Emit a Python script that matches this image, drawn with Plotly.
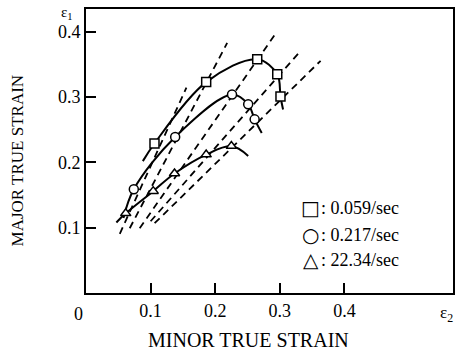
import plotly.graph_objects as go

# data (minor strain e2, major strain e1)
sq_x = [0.106, 0.186, 0.265, 0.296, 0.301]
sq_y = [0.229, 0.323, 0.358, 0.335, 0.301]
ci_x = [0.074, 0.138, 0.226, 0.251, 0.261]
ci_y = [0.159, 0.239, 0.304, 0.289, 0.266]
tr_x = [0.0615, 0.104, 0.137, 0.186, 0.225]
tr_y = [0.122, 0.156, 0.183, 0.212, 0.225]

# fitted curve paths (start, points, tail)
sq_curve_x = [0.088] + sq_x + [0.305]
sq_curve_y = [0.202] + sq_y + [0.281]
ci_curve_x = [0.058] + ci_x + [0.272]
ci_curve_y = [0.115] + ci_y + [0.245]
tr_curve_x = [0.047] + tr_x + [0.251]
tr_curve_y = [0.108] + tr_y + [0.210]

# dashed strain paths (start, end)
dash_x0 = [0.0523, 0.0677, 0.0831, 0.100, 0.1062]
dash_y0 = [0.0907, 0.0992, 0.0992, 0.1099, 0.1069]
dash_x1 = [0.1554, 0.2185, 0.2954, 0.3323, 0.3631]
dash_y1 = [0.3145, 0.383, 0.400, 0.371, 0.3557]

x_ticks = [0.1, 0.2, 0.3, 0.4]
y_ticks = [0.1, 0.2, 0.3, 0.4]
legend_symbols = ["□", "○", "△"]
legend_labels = [": 0.059/sec", ": 0.217/sec", ": 22.34/sec"]

FONT = "Liberation Serif"
fig = go.Figure()

for i in range(len(dash_x0)):
    fig.add_trace(go.Scatter(x=[dash_x0[i], dash_x1[i]], y=[dash_y0[i], dash_y1[i]],
                             mode="lines", line=dict(color="black", width=1.8, dash="7px,5px"),
                             showlegend=False, hoverinfo="skip"))

for cx, cy in [(sq_curve_x, sq_curve_y), (ci_curve_x, ci_curve_y), (tr_curve_x, tr_curve_y)]:
    fig.add_trace(go.Scatter(x=cx, y=cy, mode="lines",
                             line=dict(color="black", width=2, shape="spline", smoothing=1.0),
                             showlegend=False, hoverinfo="skip"))

for xs, ys, sym in [(sq_x, sq_y, "square"), (ci_x, ci_y, "circle"), (tr_x, tr_y, "triangle-up")]:
    fig.add_trace(go.Scatter(x=xs, y=ys, mode="markers",
                             marker=dict(symbol=sym, size=9, color="white",
                                         line=dict(color="black", width=1.5)),
                             showlegend=False))

leg_y = [0.13, 0.0886, 0.0504]
for s, lab, yy in zip(legend_symbols, legend_labels, leg_y):
    fig.add_annotation(x=0.348, y=yy, xref="x", yref="y", text=s, showarrow=False,
                       xanchor="center", yanchor="middle",
                       font=dict(family="DejaVu Sans", size=20, color="black"))
    fig.add_annotation(x=0.36, y=yy, xref="x", yref="y", text=lab, showarrow=False,
                       xanchor="left", yanchor="middle",
                       font=dict(family=FONT, size=18, color="black"))

txt = dict(family=FONT, size=18, color="black")
mid = dict(xref="paper", yref="paper", showarrow=False, xanchor="center", yanchor="middle")
fig.add_annotation(x=-0.0217, y=-0.074, text="0", font=txt, **mid)
fig.add_annotation(x=-0.0515, y=0.985, text="ε<sub>1</sub>",
                   font=dict(family=FONT, size=15, color="black"), **mid)
fig.add_annotation(x=0.981, y=-0.074, text="ε<sub>2</sub>",
                   font=dict(family=FONT, size=17, color="black"), **mid)
fig.add_annotation(x=0.444, y=-0.165, text="MINOR TRUE STRAIN",
                   font=dict(family=FONT, size=20, color="black"), **mid)
fig.add_annotation(x=-0.187, y=0.468, text="MAJOR TRUE STRAIN", textangle=-90,
                   font=dict(family=FONT, size=17, color="black"), **mid)

axis_common = dict(showline=True, linecolor="black", linewidth=2, mirror=True,
                   ticks="inside", ticklen=10, tickwidth=1.5, tickcolor="black",
                   showgrid=False, zeroline=False,
                   tickfont=dict(family=FONT, size=18, color="black"))
fig.update_xaxes(range=[0, 0.568], tickvals=x_ticks, ticktext=[str(v) for v in x_ticks],
                 **axis_common)
fig.update_yaxes(range=[0, 0.435], tickvals=y_ticks, ticktext=[str(v) for v in y_ticks],
                 **axis_common)

fig.update_layout(width=462, height=355, margin=dict(l=86, r=7, t=9, b=62),
                  plot_bgcolor="white", paper_bgcolor="white")
fig.write_html("out.html")
